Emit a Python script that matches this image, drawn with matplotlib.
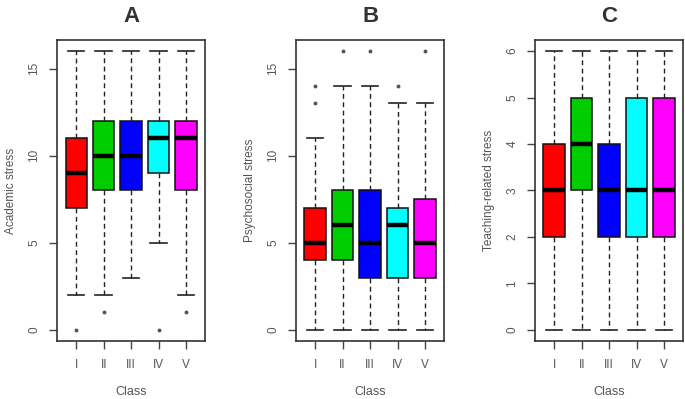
"""
Three-panel boxplot: academic, psychosocial and teaching-related stress by class
"""

import matplotlib
matplotlib.use('Agg')
import matplotlib.pyplot as plt

plt.rcParams['font.family'] = ['Liberation Sans', 'DejaVu Sans']

# Colors
TEXT = '#555555'
EDGE = '#222222'
BOX_COLORS = ['#FF0000', '#00CD00', '#0000FF', '#00FFFF', '#FF00FF']

classes = ['I', 'II', 'III', 'IV', 'V']

# Panel A: Academic stress
a_low = [2, 2, 3, 5, 2]
a_q1 = [7, 8, 8, 9, 8]
a_med = [9, 10, 10, 11, 11]
a_q3 = [11, 12, 12, 12, 12]
a_high = [16, 16, 16, 16, 16]
a_out = [[0], [1], [], [0], [1]]

# Panel B: Psychosocial stress
b_low = [0, 0, 0, 0, 0]
b_q1 = [4, 4, 3, 3, 3]
b_med = [5, 6, 5, 6, 5]
b_q3 = [7, 8, 8, 7, 7.5]
b_high = [11, 14, 14, 13, 13]
b_out = [[13, 14], [16], [16], [14], [16]]

# Panel C: Teaching-related stress
c_low = [0, 0, 0, 0, 0]
c_q1 = [2, 3, 2, 2, 2]
c_med = [3, 4, 3, 3, 3]
c_q3 = [4, 5, 4, 5, 5]
c_high = [6, 6, 6, 6, 6]
c_out = [[], [], [], [], []]

panels = [
    ('A', 'Academic stress', (a_low, a_q1, a_med, a_q3, a_high, a_out), [0, 5, 10, 15], (-0.64, 16.64), 0.0832),
    ('B', 'Psychosocial stress', (b_low, b_q1, b_med, b_q3, b_high, b_out), [0, 5, 10, 15], (-0.64, 16.64), 0.432),
    ('C', 'Teaching-related stress', (c_low, c_q1, c_med, c_q3, c_high, c_out), [0, 1, 2, 3, 4, 5, 6], (-0.24, 6.24), 0.781),
]

fig = plt.figure(figsize=(6.85, 3.99), dpi=100)
fig.patch.set_facecolor('white')

for title, ylabel, data, yticks, ylim, left in panels:
    ax = fig.add_axes([left, 0.1454, 0.2165, 0.7544])
    low, q1, med, q3, high, out = data
    stats = []
    for i in range(len(classes)):
        stats.append(dict(whislo=low[i], q1=q1[i], med=med[i], q3=q3[i],
                          whishi=high[i], fliers=out[i], label=classes[i]))
    bp = ax.bxp(stats, positions=range(1, 6), widths=0.78, capwidths=0.6,
                patch_artist=True, showfliers=True,
                boxprops=dict(edgecolor='#111111', linewidth=1.1),
                whiskerprops=dict(color=EDGE, linestyle=(0, (3.5, 2.5)), linewidth=1.0),
                capprops=dict(color=EDGE, linewidth=1.2),
                medianprops=dict(color='black', linewidth=3.2, solid_capstyle='butt'),
                flierprops=dict(marker='o', markersize=1.8, markerfacecolor='#555555',
                                markeredgecolor='#555555', linestyle='none'))
    for patch, col in zip(bp['boxes'], BOX_COLORS):
        patch.set_facecolor(col)

    ax.set_xlim(0.3, 5.7)
    ax.set_ylim(*ylim)
    ax.set_yticks(yticks)
    ax.set_yticklabels([str(t) for t in yticks], rotation=90, va='center',
                       fontsize=8.5, color=TEXT)
    ax.set_xticks(range(1, 6))
    ax.set_xticklabels(classes, fontsize=8.5, color=TEXT)
    ax.tick_params(axis='both', length=6, width=1.0, color='#444444', pad=6)
    ax.tick_params(axis='x', pad=7)

    for sp in ax.spines.values():
        sp.set_color('#333333')
        sp.set_linewidth(1.2)

    ax.set_ylabel(ylabel, fontsize=8.5, color=TEXT, labelpad=8)
    ax.set_xlabel('Class', fontsize=9, color=TEXT, labelpad=11)
    ax.set_title(title, fontsize=16, fontweight='bold', color='#333333', pad=13)

fig.savefig('out.png', dpi=100, facecolor='white')
